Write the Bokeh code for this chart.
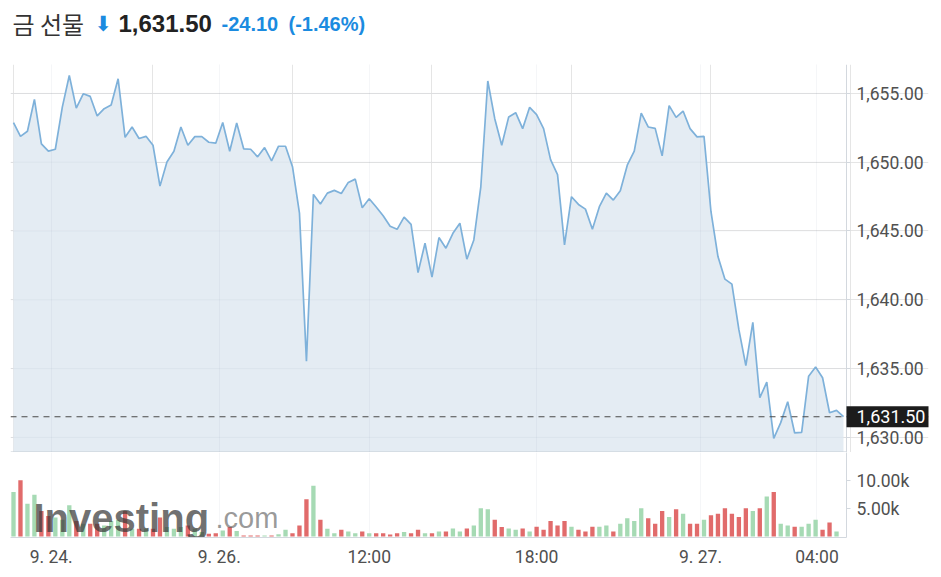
from bokeh.plotting import figure
from bokeh.models import (ColumnDataSource, Range1d, FixedTicker, Span, Label,
                          NumeralTickFormatter, Grid, LinearAxis)
from bokeh.core.properties import value
from bokeh.layouts import column
from bokeh.embed import file_html
from bokeh.resources import INLINE

# ---------------- data ----------------
title_name = "금 선물"
last_price = 1631.50
change = -24.10
change_pct = -1.46

price = [
    1652.88, 1651.88, 1652.25, 1654.57, 1651.33, 1650.80, 1650.94, 1654.00, 1656.30, 1653.93,
    1654.97, 1654.78, 1653.36, 1653.89, 1654.15, 1656.06, 1651.81, 1652.56, 1651.72, 1651.88,
    1651.23, 1648.26, 1650.02, 1650.80, 1652.56, 1651.23, 1651.86, 1651.86, 1651.45, 1651.38,
    1652.88, 1650.80, 1652.85, 1650.97, 1650.94, 1650.39, 1651.06, 1650.10, 1651.16, 1651.16,
    1649.67, 1646.30, 1635.53, 1647.66, 1646.96, 1647.75, 1647.95, 1647.73, 1648.53, 1648.77,
    1646.69, 1647.34, 1646.74, 1646.11, 1645.34, 1645.12, 1646.01, 1645.48, 1641.98, 1644.11,
    1641.65, 1644.52, 1643.75, 1644.83, 1645.56, 1642.95, 1644.35, 1648.21, 1655.90, 1653.16,
    1651.23, 1653.29, 1653.60, 1652.44, 1653.99, 1653.46, 1652.44, 1650.19, 1649.10, 1643.99,
    1647.49, 1646.93, 1646.59, 1645.12, 1646.77, 1647.75, 1647.25, 1647.93, 1649.78, 1650.80,
    1653.57, 1652.56, 1652.46, 1650.46, 1654.11, 1653.26, 1653.72, 1652.44, 1651.84, 1651.88,
    1646.40, 1643.14, 1641.50, 1641.14, 1637.83, 1635.22, 1638.36, 1632.88, 1634.01, 1629.93,
    1631.07, 1632.59, 1630.32, 1630.36, 1634.45, 1635.12, 1634.33, 1631.79, 1631.96, 1631.50,
]

volume_k = [
    8.0, 10.1, 5.9, 7.5, 4.6, 3.7, 3.4, 3.0, 5.6, 2.8,
    2.3, 2.3, 2.3, 2.0, 2.8, 3.0, 4.6, 1.4, 1.4, 1.4,
    1.4, 3.4, 1.7, 1.4, 1.7, 2.0, 1.4, 0.8, 0.5, 0.6,
    1.1, 1.7, 1.0, 0.2, 0.2, 0.2, 0.2, 0.2, 0.4, 1.2,
    0.6, 2.0, 6.7, 9.1, 3.0, 1.4, 0.6, 1.2, 0.9, 0.6,
    0.9, 0.6, 0.6, 0.6, 0.35, 0.6, 0.8, 0.6, 1.2, 0.6,
    0.6, 0.9, 0.9, 1.45, 0.9, 1.45, 2.0, 5.1, 4.9, 3.0,
    1.7, 1.45, 1.2, 1.45, 0.9, 1.75, 1.2, 2.8, 2.0, 2.8,
    1.75, 1.2, 0.9, 1.75, 1.75, 2.0, 0.9, 2.3, 3.3, 2.8,
    5.1, 3.3, 2.3, 4.6, 3.5, 4.9, 4.1, 2.3, 2.3, 3.0,
    3.8, 4.1, 5.1, 4.1, 3.5, 5.1, 4.6, 5.1, 7.2, 8.0,
    2.3, 2.0, 1.75, 1.75, 2.3, 3.0, 1.2, 2.5, 0.9, 0.0,
]

x_tick_pos = [5.4, 29.5, 51, 75, 98.5, 115.2]
x_tick_labels = ["9. 24.", "9. 26.", "12:00", "18:00", "9. 27.", "04:00"]
price_ticks = [1630, 1635, 1640, 1645, 1650, 1655]
volume_ticks = [5000, 10000]

# ---------------- layout / styling ----------------
W = 935
LEFT = 10            # frame left (px)
AXIS_PX = 846        # right axis line (px)
BOX_PX = 928         # right edge of price label box (px)
X0, X_AXIS = -0.43, 119.43
UNIT = (X_AXIS - X0) / (AXIS_PX - LEFT)   # index units per px
P0, P1 = 1628.9, 1657.1
V0, V1 = -175, 15090
UP, DOWN = "#a6dab4", "#e16b6b"
BLUE = "#1b8be0"
AXIS_TXT = "#505050"
AX_LINE = "#d3d8de"
GRID_C, GRID_A = "#7f8fa0", 0.08
FONT = "Roboto"

idx = list(range(len(price)))
colors = [UP if (i == 0 or price[i] >= price[i - 1]) else DOWN for i in idx]
src = ColumnDataSource(dict(x=idx, price=price,
                            vol=[v * 1000 for v in volume_k], color=colors))

# ---------------- title figure ----------------
t = figure(width=W, height=64, x_range=Range1d(0, W), y_range=Range1d(64, 0),
           output_backend="svg", toolbar_location=None, min_border=0,
           x_axis_location=None, y_axis_location=None, frame_align=False)
t.outline_line_color = None
t.grid.visible = False
parts = [
    (12, title_name, "Noto Sans CJK KR", "normal", "24px", "#333333"),
    (94, "⬇", "DejaVu Sans", "normal", "21px", BLUE),
    (118, f"{last_price:,.2f}", "Liberation Sans", "bold", "24px", "#222222"),
    (221, f"{change:.2f}", "Liberation Sans", "bold", "20px", BLUE),
    (288, f"({change_pct:.2f}%)", "Liberation Sans", "bold", "20px", BLUE),
]
for px, txt, fnt, sty, size, col in parts:
    t.text(x=[px], y=[23], text=[txt], text_font=value(fnt), text_font_style=sty,
           text_font_size=size, text_color=col, text_baseline="middle", text_align="left")

# ---------------- price figure ----------------
p = figure(width=W, height=388,
           x_range=Range1d(X0, X0 + (BOX_PX - LEFT) * UNIT), y_range=Range1d(P0, P1),
           output_backend="svg", toolbar_location=None,
           x_axis_location=None, y_axis_location=None,
           min_border_left=LEFT, min_border_right=W - BOX_PX, min_border_top=0,
           min_border_bottom=0, frame_align=False)
p.outline_line_color = None
p.background_fill_color = "white"
p.border_fill_color = "white"

p.varea(x="x", y1=P0, y2="price", source=src, fill_color="#e4ecf3")
p.segment(x0=X0, x1=X_AXIS, y0=price_ticks, y1=price_ticks,
          line_color=GRID_C, line_alpha=GRID_A, line_width=1)
gx = Grid(dimension=0, ticker=FixedTicker(ticks=x_tick_pos),
          grid_line_color=GRID_C, grid_line_alpha=GRID_A, level="overlay")
p.add_layout(gx)
p.line(x="x", y="price", source=src, line_color="#7eb1da", line_width=1.7)
p.segment(x0=X0, x1=X_AXIS, y0=P0, y1=P0, line_color="#c6cdd5", line_width=2)

ya = LinearAxis(fixed_location=X_AXIS)
ya.ticker = FixedTicker(ticks=price_ticks)
ya.formatter = NumeralTickFormatter(format="0,0.00")
ya.major_label_text_font = FONT
ya.major_label_text_font_size = "17.5px"
ya.major_label_text_color = AXIS_TXT
ya.axis_line_color = AX_LINE
ya.major_tick_line_color = AX_LINE
ya.major_tick_in = 0
ya.major_tick_out = 4
ya.minor_tick_line_color = None
ya.major_label_standoff = 6
p.add_layout(ya, "right")

p.add_layout(Span(location=last_price, dimension="width", line_color="#4a4a4a",
                  line_dash="6 5", line_width=1.2))
p.add_layout(Label(x=X_AXIS, y=last_price, x_offset=0, text=f"{last_price:,.2f}",
                   text_color="white", text_font=FONT, text_font_size="18px",
                   text_baseline="middle", text_align="left",
                   background_fill_color="#1c1c1c",
                   padding=dict(left=10, right=9, top=4, bottom=4)))

# ---------------- volume figure ----------------
v = figure(width=W, height=117, x_range=Range1d(X0, X_AXIS), y_range=Range1d(V0, V1),
           output_backend="svg", toolbar_location=None, y_axis_location="right",
           min_border_left=LEFT, min_border_right=W - AXIS_PX, min_border_top=0,
           min_border_bottom=30, frame_align=False)
v.outline_line_color = None
v.background_fill_color = "white"
v.border_fill_color = "white"

v.vbar(x="x", top="vol", bottom=0, width=0.62, source=src,
       fill_color="color", line_color=None)

va = v.yaxis[0]
va.ticker = FixedTicker(ticks=volume_ticks)
va.formatter = NumeralTickFormatter(format="0.00a")
va.major_label_text_font = FONT
va.major_label_text_font_size = "17.5px"
va.major_label_text_color = AXIS_TXT
va.axis_line_color = AX_LINE
va.major_tick_line_color = AX_LINE
va.major_tick_in = 0
va.major_tick_out = 4
va.minor_tick_line_color = None
va.major_label_standoff = 6

xa = v.xaxis[0]
xa.ticker = FixedTicker(ticks=x_tick_pos)
xa.major_label_overrides = {t_: lab for t_, lab in zip(x_tick_pos, x_tick_labels)}
xa.major_label_text_font = FONT
xa.major_label_text_font_size = "17.5px"
xa.major_label_text_color = AXIS_TXT
xa.axis_line_color = AX_LINE
xa.major_tick_line_color = None
xa.major_tick_in = 0
xa.major_tick_out = 0
xa.minor_tick_line_color = None
xa.major_label_standoff = 9

v.ygrid.grid_line_color = None
v.xgrid.grid_line_color = GRID_C
v.xgrid.grid_line_alpha = GRID_A

# watermark (Investing.com)
v.text(x=[X0 + 23 * UNIT], y=[3300], text=["Investing"], text_font=value("Liberation Sans"),
       text_font_style="bold", text_font_size="40px", text_color="#3a3a3a",
       text_alpha=0.72, text_baseline="alphabetic", text_align="left")
v.text(x=[X0 + 205 * UNIT], y=[3300], text=[".com"], text_font=value("Liberation Sans"),
       text_font_size="29px", text_color="#555555", text_alpha=0.6,
       text_baseline="alphabetic", text_align="left")

layout = column(t, p, v, spacing=0)
open("out.html", "w").write(file_html(layout, INLINE))
